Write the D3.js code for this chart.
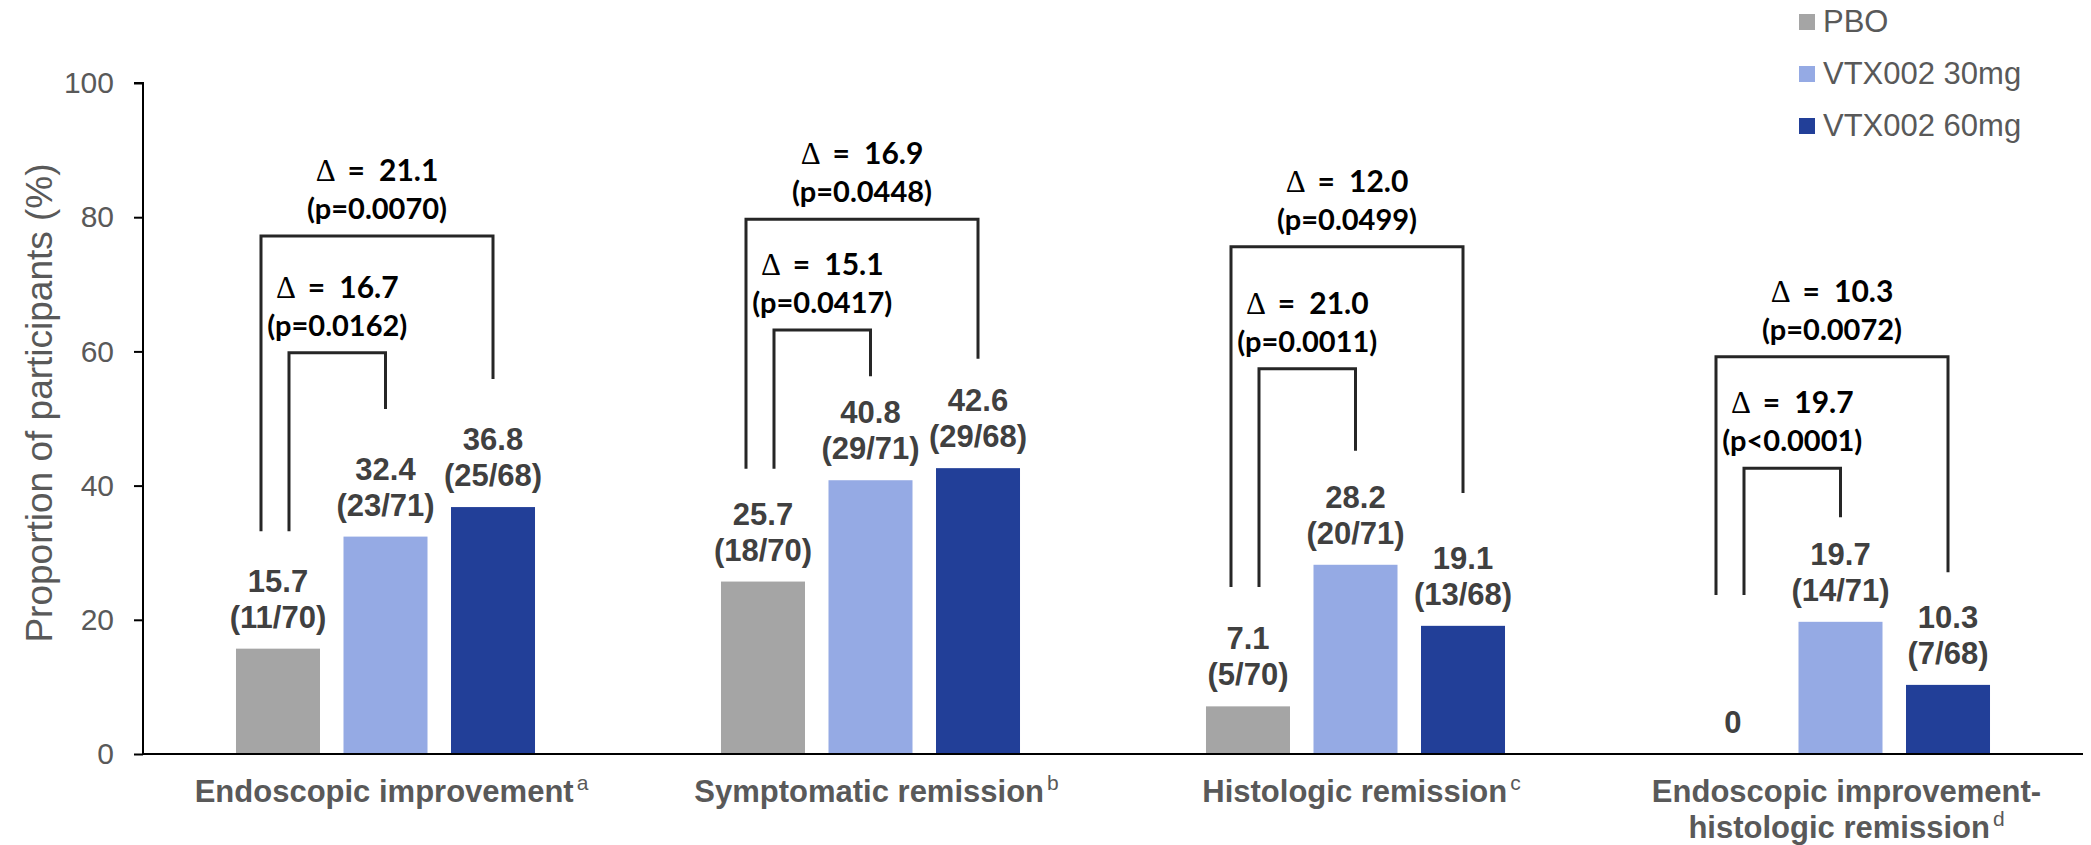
<!DOCTYPE html>
<html>
<head>
<meta charset="utf-8">
<script src="https://cdn.jsdelivr.net/npm/d3@7"></script>
<style>
  html, body { margin: 0; padding: 0; background: #fff; }
  svg { display: block; }
</style>
</head>
<body>
<div id="chart"></div>
<script>
// ---------------- DATA ----------------
const categories = ["Endoscopic improvement", "Symptomatic remission", "Histologic remission", "Endoscopic improvement-histologic remission"];
const categoryLines = [["Endoscopic improvement"], ["Symptomatic remission"], ["Histologic remission"], ["Endoscopic improvement-", "histologic remission"]];
const footnotes = ["a", "b", "c", "d"];
const series = ["PBO", "VTX002 30mg", "VTX002 60mg"];
const pboValues = [15.7, 25.7, 7.1, 0];
const mg30Values = [32.4, 40.8, 28.2, 19.7];
const mg60Values = [36.8, 42.6, 19.1, 10.3];
const pboCounts = ["11/70", "18/70", "5/70", null];
const mg30Counts = ["23/71", "29/71", "20/71", "14/71"];
const mg60Counts = ["25/68", "29/68", "13/68", "7/68"];
const yTicks = [0, 20, 40, 60, 80, 100];
const yTitle = "Proportion of participants (%)";

// comparisons: outer = 60mg vs PBO, inner = 30mg vs PBO
const outerDelta = [21.1, 16.9, 12.0, 10.3];
const outerP = ["p=0.0070", "p=0.0448", "p=0.0499", "p=0.0072"];
const innerDelta = [16.7, 15.1, 21.0, 19.7];
const innerP = ["p=0.0162", "p=0.0417", "p=0.0011", "p<0.0001"];
// bracket levels in data units (%)
const outerTop = [77.2, 79.7, 75.6, 59.2];
const innerTop = [59.8, 63.2, 57.4, 42.6];
const outerRightEnd = [55.9, 58.9, 38.9, 27.1];
const innerRightEnd = [51.4, 56.3, 45.2, 35.3];
const leftEnd = [33.2, 42.5, 24.9, 23.7];

// ---------------- STYLE ----------------
const W = 2091, H = 845;
const margin = { left: 143, right: 8, top: 83, bottom: 91 };
const colors = { "PBO": "#A5A5A5", "VTX002 30mg": "#95AAE4", "VTX002 60mg": "#223F98" };
const sans = "'Liberation Sans', Arial, Helvetica, sans-serif";
const annFont = "Lato, 'Open Sans', sans-serif";

const svg = d3.select("#chart").append("svg")
  .attr("width", W).attr("height", H)
  .style("background", "#fff");

const y = d3.scaleLinear().domain([0, 100]).range([H - margin.bottom, margin.top]);
const x0 = d3.scaleBand().domain(categories).range([margin.left, W - margin.right]).padding(0);
const x1 = d3.scaleBand().domain(series).range([0, x0.bandwidth()])
  .paddingInner(0.2186).paddingOuter(0.865);

const valuesBySeries = { "PBO": pboValues, "VTX002 30mg": mg30Values, "VTX002 60mg": mg60Values };
const countsBySeries = { "PBO": pboCounts, "VTX002 30mg": mg30Counts, "VTX002 60mg": mg60Counts };

const rows = [];
categories.forEach((c, i) => {
  series.forEach(s => rows.push({ cat: c, i, s, v: valuesBySeries[s][i], n: countsBySeries[s][i] }));
});

// ---------------- AXES ----------------
const yAxis = d3.axisLeft(y).tickValues(yTicks).tickSize(9).tickPadding(20).tickFormat(d3.format("d"));
const gy = svg.append("g").attr("transform", `translate(${margin.left},0)`).call(yAxis);
gy.select(".domain").attr("stroke", "#000").attr("stroke-width", 2).attr("d", `M-9,${y(100)}H0V${y(0)}`);
gy.selectAll(".tick line").attr("stroke", "#000").attr("stroke-width", 2);
gy.selectAll(".tick text").attr("fill", "#595959").style("font-family", sans).style("font-size", "30px");

svg.append("text")
  .attr("transform", `translate(52,403) rotate(-90)`)
  .attr("text-anchor", "middle")
  .attr("fill", "#595959")
  .style("font-family", sans).style("font-size", "37px")
  .text(yTitle);

// ---------------- BARS ----------------
const barX = d => x0(d.cat) + x1(d.s);
svg.append("g").selectAll("rect").data(rows.filter(d => d.v > 0)).join("rect")
  .attr("x", barX)
  .attr("y", d => y(d.v))
  .attr("width", x1.bandwidth())
  .attr("height", d => y(0) - y(d.v))
  .attr("fill", d => colors[d.s]);

// x axis line
svg.append("line")
  .attr("x1", margin.left).attr("x2", W - margin.right)
  .attr("y1", y(0)).attr("y2", y(0))
  .attr("stroke", "#000").attr("stroke-width", 2);

// value labels
const lbl = svg.append("g").style("font-family", sans).style("font-weight", "bold")
  .style("font-size", "31px").attr("fill", "#404040").attr("text-anchor", "middle");
rows.forEach(d => {
  const cx = barX(d) + x1.bandwidth() / 2;
  const base = y(d.v) - 21;
  if (d.n) {
    lbl.append("text").attr("x", cx).attr("y", base - 36).text(d3.format(".1f")(d.v));
    lbl.append("text").attr("x", cx).attr("y", base).text(`(${d.n})`);
  } else {
    lbl.append("text").attr("x", cx).attr("y", base).text(d3.format("d")(d.v));
  }
});

// category labels
const cl = svg.append("g").style("font-family", sans).style("font-weight", "bold")
  .style("font-size", "31px").attr("fill", "#595959").attr("text-anchor", "middle");
categories.forEach((c, i) => {
  const cx = x0(c) + x0.bandwidth() / 2;
  const lines = categoryLines[i];
  lines.forEach((ln, k) => {
    const t = cl.append("text").attr("x", cx + 6).attr("y", 802 + k * 36);
    t.append("tspan").text(ln);
    if (k === lines.length - 1) {
      t.append("tspan").attr("dy", -12).style("font-size", "21px").style("font-weight", "normal")
        .attr("dx", 3).text(footnotes[i]);
    }
  });
});

// ---------------- BRACKETS ----------------
const br = svg.append("g").attr("fill", "none").attr("stroke", "#262626").attr("stroke-width", 3);
const ann = svg.append("g").attr("fill", "#000").attr("text-anchor", "middle");
function cx(i, s) { return x0(categories[i]) + x1(s) + x1.bandwidth() / 2; }
function annotate(xc, topY, delta, p) {
  const t1 = ann.append("text").attr("x", xc).attr("y", topY - 55);
  t1.append("tspan").style("font-family", "'Liberation Serif', 'DejaVu Serif', serif")
    .style("font-size", "31px").style("font-weight", "normal").text("\u0394");
  t1.append("tspan").style("font-family", annFont).style("font-size", "30px").style("font-weight", "bold")
    .attr("dx", 12).text("=");
  t1.append("tspan").style("font-family", annFont).style("font-size", "30px").style("font-weight", "bold")
    .attr("dx", 14).text(d3.format(".1f")(delta));
  ann.append("text").attr("x", xc).attr("y", topY - 17)
    .style("font-family", annFont).style("font-size", "29px").style("font-weight", "bold")
    .text(`(${p})`);
}
categories.forEach((c, i) => {
  const pbo = cx(i, "PBO"), m30 = cx(i, "VTX002 30mg"), m60 = cx(i, "VTX002 60mg");
  const oL = pbo - 17, iL = pbo + 11;
  br.append("path").attr("d", `M${oL},${y(leftEnd[i])}V${y(outerTop[i])}H${m60}V${y(outerRightEnd[i])}`);
  br.append("path").attr("d", `M${iL},${y(leftEnd[i])}V${y(innerTop[i])}H${m30}V${y(innerRightEnd[i])}`);
  annotate((oL + m60) / 2, y(outerTop[i]), outerDelta[i], outerP[i]);
  annotate((iL + m30) / 2, y(innerTop[i]), innerDelta[i], innerP[i]);
});

// ---------------- LEGEND ----------------
const lg = svg.append("g").attr("transform", "translate(1799,0)");
series.forEach((s, k) => {
  const base = 32 + k * 52;
  lg.append("rect").attr("x", 0).attr("y", base - 18).attr("width", 16).attr("height", 16).attr("fill", colors[s]);
  lg.append("text").attr("x", 24).attr("y", base)
    .style("font-family", sans).style("font-size", "31px").attr("fill", "#595959").text(s);
});
</script>
</body>
</html>
